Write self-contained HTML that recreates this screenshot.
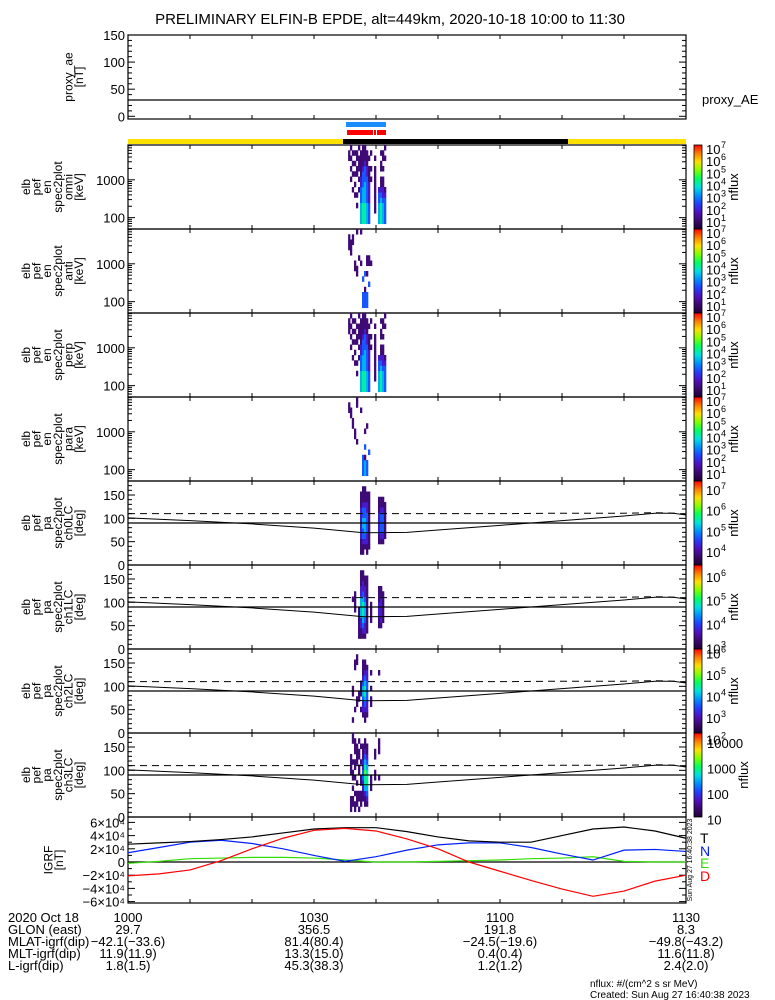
<!DOCTYPE html>
<html><head><meta charset="utf-8"><style>
body{margin:0;background:#fff;}
svg{display:block;font-family:"Liberation Sans",sans-serif;}
</style></head><body>
<svg id="chart" width="775" height="1000" viewBox="0 0 775 1000" xmlns="http://www.w3.org/2000/svg"></svg>
<script>
// ---------- data ----------
const timeTicks = [0,10,20,30,40,50,60,70,80,90];
const igrfTimes = [0,5,10,15,20,25,30,35,40,45,50,55,60,65,70,75,80,85,90];
const igrfT = [27,29,31,34,38,44,50,52,52,46,38,32,30,30,40,50,53,47,36,28].slice(0,19);
const igrfN = [14,22,30,33,28,20,10,1,8,18,26,29,29,22,12,3,18,19,16];
const igrfE = [-2,1,5,6,7,7,6,3,0,0,1,2,3,5,6,8,1,0,0];
const igrfD = [-21,-18,-12,2,20,36,48,51,47,35,20,0,-14,-28,-41,-52,-44,-29,-20];
const lcTimes = [0,10,20,30,38,45,50,60,70,80,85,88,90];
const lossCone = [101,95,88,79,69,70,75,85,95,105,111,111,107];
const antiLossCone = [110,110,110,110,110,110,110,110,111,111,112,111,109];
const proxyAE = [30,30];
const proxyTimes = [0,90];
const specTimes = [35.5,35.8,36.1,36.45,36.77,37.1,37.42,37.74,38.06,38.39,38.71,39.03,39.68,40.32,40.65,40.97,41.29];
const omniLevels = ["0000000000000110","0000000001010101","0000000100101010","0000001010101010","0000101000110110","0000000101011101","0444433322111110","0555544433321111","0555544443332111","0444433333221110","0333322221110100","0000000001010010","0001111111110100","0444433200000000","0555543211011010","0444432211010110","0333332100000101"];
const antiLevels = ["0000000000001110","0000000000011100","0000000000000110","0000000011000000","0000000110000001","0000000000100000","0000000001000001","0333003000000000","0333100300000000","0333000101100000","0000030001100000","0000000001000000","0000000000000000","0000000000000000","0000000000000000","0000000000000000","0000000000000000"];
const perpLevels = ["0000000000001110","0000000001010101","0000000100101010","0000001010101010","0000101000110100","0000000101011101","0444433322111110","0555544433321111","0555544443332111","0444433333221110","0333322221110100","0000000001010010","0001111111110100","0444433200000000","0555543211011010","0444432211010110","0333332100000101"];
const paraLevels = ["0000000000000110","0000000000001100","0000000000110000","0000000011000000","0000000100000011","0000000000000000","0000000000000100","0333300000000000","0444103001000000","0333000000100000","0000030000000000","0000000000000000","0000000000000000","0000000000000000","0000000000000000","0000000000000000","0000000000000000"];
const pa0Levels = ["0000000000000000","0000000000000000","0000000000000000","0000000000000000","0000000000000000","0000000000000000","0011122222211100","0011233443321110","0001234443321110","0011223333221100","0001111111111100","0000000000000000","0000000000000000","0000112222111000","0000123333211000","0000123333211000","0000011111110000"];
const pa1Levels = ["0000000000000000","0000000000000000","0000000001000000","0000000111100000","0000000000000000","0011111100000000","0011224444221110","0012345554322110","0012234443221100","0001111111111100","0000000000000000","0000011110000000","0000000000000000","0000112221110000","0000122222110000","0000011111100000","0000000000000000"];
const pa2Levels = ["0000000000000000","0000000000000000","0010000110000000","0000100000001100","0000011000000110","0000001100000000","0000100111000000","0001223443211100","0011234554321100","0001223333221000","0000000000000000","0000011010010000","0000000000000000","0000000000010000","0000000000000000","0000000000000000","0000000000000000"];
const pa3Levels = ["0000000000000000","0111000011110000","0011010110100011","0110100101101110","0011101000111100","0101100011011010","0011101100100100","0001122332211100","0011245565432110","0012345554321100","0000000000000000","0000011100000000","0000000110011000","0000000100001110","0000000000000000","0000000000000000","0000000000000000"];
const cbTop = [7.33,7.33,7.33,7.33,7.43,6.5,6.2,4.4];
const cbBottom = [0.43,0.43,0.43,0.43,3.37,2.97,2.3,1.1];
const cbLabels = [[1,2,3,4,5,6,7],[1,2,3,4,5,6,7],[1,2,3,4,5,6,7],[1,2,3,4,5,6,7],[4,5,6,7],[3,4,5,6],[2,3,4,5,6],[1,2,3,4]];
const bottomRowLabels = ["2020 Oct 18","GLON (east)","MLAT-igrf(dip)","MLT-igrf(dip)","L-igrf(dip)"];
const bottomCols = [
 ["1000","29.7","-42.1(-33.6)","11.9(11.9)","1.8(1.5)"],
 ["1030","356.5","81.4(80.4)","13.3(15.0)","45.3(38.3)"],
 ["1100","191.8","-24.5(-19.6)","0.4(0.4)","1.2(1.2)"],
 ["1130","8.3","-49.8(-43.2)","11.6(11.8)","2.4(2.0)"]];
const bottomColTimes = [0,30,60,90];

// ---------- layout ----------
const NS="http://www.w3.org/2000/svg";
const svg=document.getElementById('chart');
const X0=128,X1=686;
const xT=t=>X0+(X1-X0)*t/90;
const panels=[[35,119],[145,229],[229,313],[313,397],[397,481],[481,565],[565,649],[649,733],[733,817],[817,903]];
function mk(tag,a,parent){const e=document.createElementNS(NS,tag);for(const k in a)e.setAttribute(k,a[k]);(parent||svg).appendChild(e);return e;}
function txt(s,x,y,a,parent){const e=mk('text',Object.assign({x:x,y:y,'font-size':13,fill:'#000'},a||{}),parent);e.textContent=s;return e;}
function cmap(f){f=Math.max(0,Math.min(1,f));
 const st=[[0,[30,0,50]],[0.1,[60,10,110]],[0.2,[80,16,190]],[0.3,[32,64,255]],[0.4,[0,144,255]],[0.5,[0,224,224]],[0.6,[0,255,96]],[0.7,[128,255,0]],[0.8,[255,224,0]],[0.9,[255,128,0]],[1,[255,0,0]]];
 for(let i=1;i<st.length;i++){if(f<=st[i][0]){const a=st[i-1],b=st[i],u=(f-a[0])/(b[0]-a[0]);return 'rgb('+a[1].map((v,j)=>Math.round(v+(b[1][j]-v)*u)).join(',')+')';}}return 'rgb(255,0,0)';}

// title
let t=txt("PRELIMINARY ELFIN-B EPDE, alt=449km, 2020-10-18 10:00 to 11:30",390,24,{'text-anchor':'middle','font-size':15});



// status bars
let b=mk('rect',{x:346,y:122,width:40,height:5,fill:'#1a8cff'});


b=mk('rect',{x:347,y:130,width:39,height:5,fill:'#ff0000'});


mk('rect',{x:373,y:130,width:1,height:5,fill:'#fff'});mk('rect',{x:376,y:130,width:1,height:5,fill:'#fff'});
b=mk('rect',{x:128,y:139,width:558,height:5,fill:'#ffe000'});


b=mk('rect',{x:343,y:139,width:225,height:5,fill:'#000'});



// left axis titles
const titles=[["proxy_ae","[nT]"],["elb","pef","en","spec2plot","omni","[keV]"],["elb","pef","en","spec2plot","anti","[keV]"],["elb","pef","en","spec2plot","perp","[keV]"],["elb","pef","en","spec2plot","para","[keV]"],["elb","pef","pa","spec2plot","ch0LC","[deg]"],["elb","pef","pa","spec2plot","ch1LC","[deg]"],["elb","pef","pa","spec2plot","ch2LC","[deg]"],["elb","pef","pa","spec2plot","ch3LC","[deg]"],["IGRF","[nT]"]];
titles.forEach((lines,p)=>{const cy=(panels[p][0]+panels[p][1])/2;const last=p==9?63:83;
 lines.forEach((s,i)=>{const x=last-(lines.length-1-i)*10.6;
  const e=txt(s,x,cy,{'text-anchor':'middle',transform:'rotate(-90 '+x+' '+cy+')','font-size':12});
  
  });});

// panels frames & x ticks
panels.forEach((pp,p)=>{
 const r=mk('rect',{x:X0,y:pp[0],width:X1-X0,height:pp[1]-pp[0],fill:'none',stroke:'#000','stroke-width':1.2});
 
 
 timeTicks.forEach(tt=>{const x=xT(tt);mk('line',{x1:x,x2:x,y1:pp[0],y2:pp[0]+4,stroke:'#000'});mk('line',{x1:x,x2:x,y1:pp[1],y2:pp[1]-4,stroke:'#000'});});
});

// y ticks helper
function ytick(y,len,label,p){mk('line',{x1:X0,x2:X0+len,y1:y,y2:y,stroke:'#000'});mk('line',{x1:X1,x2:X1-len,y1:y,y2:y,stroke:'#000'});
 if(label!==null){const e=txt(label,X0-3,y+5,{'text-anchor':'end','font-size':13});
  
  }}

// top panel
const yAE=v=>119-(v+5)/155*84;
for(let v=0;v<=150;v+=10)ytick(yAE(v),v%50==0?7:4,v%50==0?String(v):null);
let ln=mk('polyline',{points:proxyTimes.map((tt,i)=>xT(tt)+','+yAE(proxyAE[i])).join(' '),fill:'none',stroke:'#000','stroke-width':1.2});


t=txt("proxy_AE",702,104,{'font-size':13});



// spectrogram panels
const E0=1.70,E1=3.92;
const specSets=[omniLevels,antiLevels,perpLevels,paraLevels,pa0Levels,pa1Levels,pa2Levels,pa3Levels];
const colW=(X1-X0)/90*0.32;
specSets.forEach((set,k)=>{const p=k+1,top=panels[p][0],bot=panels[p][1],bh=(bot-top)/16;
 const g=mk('g',{});
 
 
 set.forEach((s,ci)=>{for(let j=0;j<16;j++){const d=+s[j];if(!d)continue;
  const c=mk('rect',{x:xT(specTimes[ci]),y:bot-(j+1)*bh,width:colW+0.3,height:bh+0.3,fill:cmap(d*0.11)},g);
  
  }});
 // y axis
 if(k<4){const yE=l=>top+(E1-l)*(bot-top)/(E1-E0);
  for(let dec=1;dec<=3;dec++)for(let m=1;m<=9;m++){const l=dec+Math.log10(m);if(l<E0||l>E1)continue;ytick(yE(l),m==1?7:4,m==1?String(Math.pow(10,dec)):null);}}
 else{const yP=v=>bot-v/180*(bot-top);
  for(let v=0;v<=180;v+=10)ytick(yP(v),v%50==0?7:4,v%50==0?String(v):null);
  const lc=mk('polyline',{points:lcTimes.map((tt,i)=>xT(tt)+','+yP(lossCone[i])).join(' '),fill:'none',stroke:'#000','stroke-width':1});
  
  
  const alc=mk('polyline',{points:lcTimes.map((tt,i)=>xT(tt)+','+yP(antiLossCone[i])).join(' '),fill:'none',stroke:'#000','stroke-width':1,'stroke-dasharray':'7,5'});
  
  
  const l90=mk('line',{x1:X0,x2:X1,y1:yP(90),y2:yP(90),stroke:'#000','stroke-width':1.2});
  
  }
 // colorbar
 const gid='cg'+k;const lg=mk('linearGradient',{id:gid,x1:0,y1:1,x2:0,y2:0});
 for(let i=0;i<=10;i++)mk('stop',{offset:i/10,'stop-color':cmap(i/10)},lg);
 const cb=mk('rect',{x:694,y:top,width:8,height:bot-top,fill:'url(#'+gid+')',stroke:'#000','stroke-width':0.8});
 
 
 const yc=l=>top+(cbTop[k]-l)*(bot-top)/(cbTop[k]-cbBottom[k]);
 cbLabels[k].forEach(l=>{const y=yc(l);
  if(k==7){const e=txt(String(Math.pow(10,l)),707,y+5,{'font-size':13});
   
   }
  else{const e=txt("10",706,y+5,{'font-size':13});
   
   
   txt(String(l),721,y-1,{'font-size':9});}});
 const nx=k==7?748:738,ny=(top+bot)/2;
 const nf=txt("nflux",nx,ny,{'text-anchor':'middle',transform:'rotate(-90 '+nx+' '+ny+')','font-size':13});
 
 
});

// IGRF panel
const yB=v=>862-v*1000*0.00066;
[[60,"6×10⁴"],[40,"4×10⁴"],[20,"2×10⁴"],[0,"0"],[-20,"−2×10⁴"],[-40,"−4×10⁴"],[-60,"−6×10⁴"]].forEach(a=>ytick(yB(a[0]),7,a[1]));
for(let v=-60;v<=60;v+=10)if(v%20)ytick(yB(v),4,null);
const zl=mk('line',{x1:X0,x2:X1,y1:yB(0),y2:yB(0),stroke:'#000','stroke-width':1.2});


function stepPts(arr){let pts=[];arr.forEach((v,i)=>{pts.push(xT(igrfTimes[i])+','+yB(v));});return pts.join(' ');}
[[igrfE,'#30e000','igrf-e-line'],[igrfN,'#0020ff','igrf-n-line'],[igrfT,'#000','igrf-t-line'],[igrfD,'#ff0000','igrf-d-line']].forEach(s=>{
 const l=mk('polyline',{points:stepPts(s[0]),fill:'none',stroke:s[1],'stroke-width':1.2});
 
 });
[["T",'#000',843],["N",'#0020ff',856],["E",'#30e000',868],["D",'#ff0000',881]].forEach(s=>{
 const e=txt(s[0],700,s[2],{fill:s[1],'font-size':14});
 
 });
const sx=692,sy=860;
t=txt("Sun Aug 27 16:40:38 2023",sx,sy,{'text-anchor':'middle','font-size':7,transform:'rotate(-90 '+sx+' '+sy+')'});



// bottom annotation table
bottomRowLabels.forEach((s,i)=>{const e=txt(s,8,922+i*12,{'font-size':13});
 
 });
bottomCols.forEach((col,c)=>col.forEach((s,i)=>{const e=txt(s.replace(/-/g,'−'),xT(bottomColTimes[c]),922+i*12,{'text-anchor':'middle','font-size':13});
 
 }));
t=txt("nflux: #/(cm^2 s sr MeV)",590,987,{'font-size':10});


t=txt("Created: Sun Aug 27 16:40:38 2023",590,998,{'font-size':10});


</script>
</body></html>
